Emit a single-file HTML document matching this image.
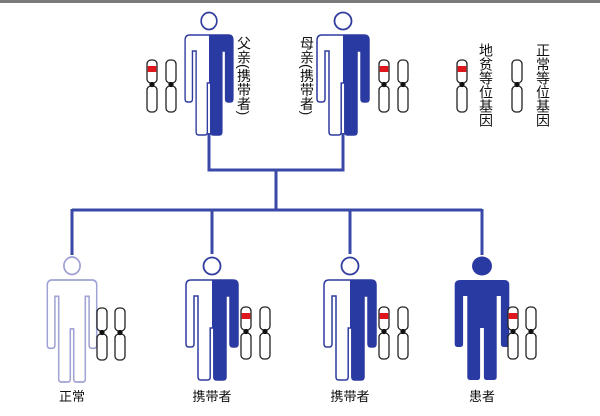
<!DOCTYPE html>
<html><head><meta charset="utf-8"><style>
html,body{margin:0;padding:0;background:#fff;}
#w{position:relative;width:600px;height:416px;overflow:hidden;background:#fff;font-family:"Liberation Sans","Noto Sans CJK SC",sans-serif;}
.v{position:absolute;writing-mode:vertical-rl;font-size:14px;line-height:14px;color:#111;}
.l{position:absolute;font-size:13px;color:#111;width:80px;text-align:center;}
</style></head><body><div id="w">
<svg width="600" height="416" style="position:absolute;left:0;top:0">
<defs>
<path id="p" d="M -21,0 L 21,0 Q 26,0 26,5 L 26,64 Q 26,67 23,67 L 21,67 Q 18,67 18,64 L 18,16 L 14,16 L 14,97 Q 14,100 11,100 L 4.5,100 Q 1.8,100 1.8,97 L 1.8,48 L -1.8,48 L -1.8,97 Q -1.8,100 -4.5,100 L -11,100 Q -14,100 -14,97 L -14,16 L -18,16 L -18,64 Q -18,67 -21,67 L -23,67 Q -26,67 -26,64 L -26,5 Q -26,0 -21,0 Z"/>
<clipPath id="r"><rect x="0" y="-30" width="40" height="140"/></clipPath>
<g id="half">
<use href="#p" fill="#fff" stroke="#2f3c9e" stroke-width="1.5"/>
<use href="#p" fill="#2a3aa3" clip-path="url(#r)"/>
<circle cx="0" cy="-14" r="8.5" fill="#fff" stroke="#2f3c9e" stroke-width="1.8"/>
</g>
<g id="cn">
<rect x="0" y="0" width="10" height="23" rx="4" fill="#fff" stroke="#222" stroke-width="1.3"/>
<rect x="0" y="26" width="10" height="26" rx="4" fill="#fff" stroke="#222" stroke-width="1.3"/>
<circle cx="5" cy="24.5" r="2.6" fill="#111"/>
</g>
<g id="cr">
<use href="#cn"/>
<rect x="0.7" y="6" width="8.6" height="6" fill="#e0161e"/>
</g>
</defs>
<rect x="0" y="0" width="600" height="3" fill="#7a7a7a"/>
<g stroke="#3a48a8" stroke-width="3" fill="none">
<path d="M209,133 V170 H343 V133 M276,170 V210 M72,210 H482 M72,209 V255 M212,209 V254 M350,209 V254 M482,209 V255"/>
</g>
<use href="#half" transform="translate(209,35) scale(0.92,1)"/>
<use href="#half" transform="translate(343,35)"/>
<g transform="translate(72,280) scale(0.95,1.02)">
<use href="#p" fill="#fff" stroke="#9fa2d4" stroke-width="1.6"/>
<circle cx="0" cy="-14" r="8.5" fill="#fff" stroke="#9fa2d4" stroke-width="1.8"/>
</g>
<use href="#half" transform="translate(212,280)"/>
<use href="#half" transform="translate(350,280)"/>
<g transform="translate(482,280) scale(1.05,1)">
<use href="#p" fill="#2a3aa3"/>
<circle cx="0" cy="-14" r="9.5" fill="#2a3aa3"/>
</g>
<use href="#cr" transform="translate(147,60)"/>
<use href="#cn" transform="translate(166,60)"/>
<use href="#cr" transform="translate(379,60)"/>
<use href="#cn" transform="translate(398,60)"/>
<use href="#cr" transform="translate(457,60)"/>
<use href="#cn" transform="translate(512,60)"/>
<use href="#cn" transform="translate(97,308)"/>
<use href="#cn" transform="translate(115,308)"/>
<use href="#cr" transform="translate(241,307)"/>
<use href="#cn" transform="translate(260,307)"/>
<use href="#cr" transform="translate(379,307)"/>
<use href="#cn" transform="translate(398,307)"/>
<use href="#cr" transform="translate(508,307)"/>
<use href="#cn" transform="translate(526,307)"/>
</svg>
<div class="v" style="left:237px;top:36px;">父亲(携带者)</div>
<div class="v" style="left:300px;top:36px;">母亲(携带者)</div>
<div class="v" style="left:479px;top:43px;">地贫等位基因</div>
<div class="v" style="left:536px;top:43px;">正常等位基因</div>
<div class="l" style="left:32px;top:386px;">正常</div>
<div class="l" style="left:172px;top:386px;">携带者</div>
<div class="l" style="left:310px;top:386px;">携带者</div>
<div class="l" style="left:442px;top:386px;">患者</div>
</div></body></html>
